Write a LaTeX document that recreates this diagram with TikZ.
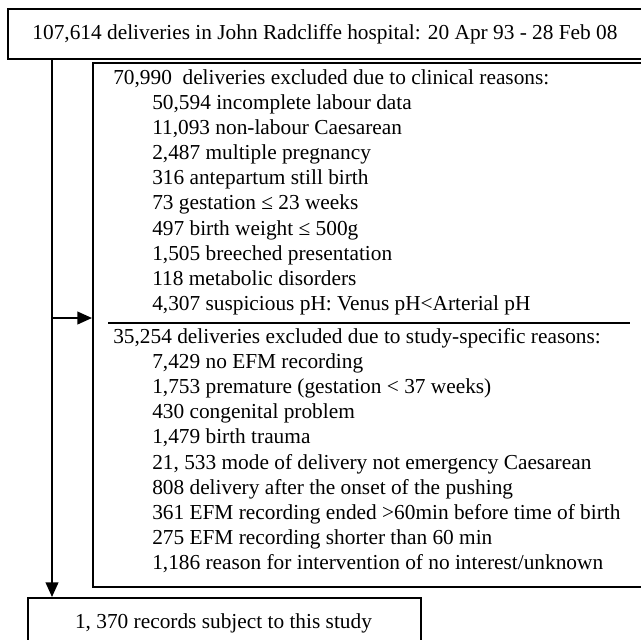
\documentclass[tikz,border=0pt]{standalone}
\usepackage{fontspec}
\setmainfont{Liberation Serif}
\usetikzlibrary{arrows.meta}
\begin{document}
\begin{tikzpicture}[x=0.75pt,y=-0.75pt,
  frame/.style={draw, line width=1.3pt, inner sep=0pt, anchor=north west},
  txtfont/.style={font=\fontsize{16}{19}\selectfont},
  txt/.style={txtfont, anchor=base west, inner sep=0pt},
  ctxt/.style={txtfont, anchor=base, inner sep=0pt},
  conn/.style={line width=1.5pt, -{Triangle[length=11pt,width=9.5pt]}},
  rule/.style={line width=1.3pt}]
\useasboundingbox (0,0) rectangle (641,639);
% boxes
\node[frame, minimum width=478.5pt, minimum height=37.5pt] (top) at (7,8) {};
\node[frame, minimum width=414.75pt, minimum height=393pt] (excl) at (92,62) {};
\node[frame, minimum width=294.75pt, minimum height=38.25pt] (final) at (27,597) {};
\node[ctxt] (toptext) at (325,39) {107,614 deliveries in John Radcliffe hospital: 20 Apr 93 - 28 Feb 08};
\node[ctxt] (finaltext) at (223.5,628) {1, 370 records subject to this study};
% connectors
\coordinate (vx) at (52,0);
\coordinate (split) at (52,318);
\draw[conn] (vx |- top.south) -- (vx |- final.north);
\draw[conn] (split) -- (split -| excl.west);
% separator
\coordinate (sepL) at (108,323);
\coordinate (sepR) at (630,323);
\draw[rule] (sepL) -- (sepR);
% block 1
\node[txt] (h1) at (113,84) {70,990\ \ deliveries excluded due to clinical reasons:};
\foreach \t [count=\i] in {
  {50,594 incomplete labour data},
  {11,093 non-labour Caesarean},
  {2,487 multiple pregnancy},
  {316 antepartum still birth},
  {73 gestation ≤ 23 weeks},
  {497 birth weight ≤ 500g},
  {1,505 breeched presentation},
  {118 metabolic disorders},
  {4,307 suspicious pH: Venus pH<Arterial pH}}
  \node[txt] (a\i) at (152,{109+25.2*(\i-1)}) {\t};
% block 2
\node[txt] (h2) at (113,343) {35,254 deliveries excluded due to study-specific reasons:};
\foreach \t [count=\i] in {
  {7,429 no EFM recording},
  {1,753 premature (gestation < 37 weeks)},
  {430 congenital problem},
  {1,479 birth trauma},
  {21, 533 mode of delivery not emergency Caesarean},
  {808 delivery after the onset of the pushing},
  {361 EFM recording ended >60min before time of birth},
  {275 EFM recording shorter than 60 min},
  {1,186 reason for intervention of no interest/unknown}}
  \node[txt] (b\i) at (152,{368.2+25.2*(\i-1)}) {\t};
\end{tikzpicture}
\end{document}
